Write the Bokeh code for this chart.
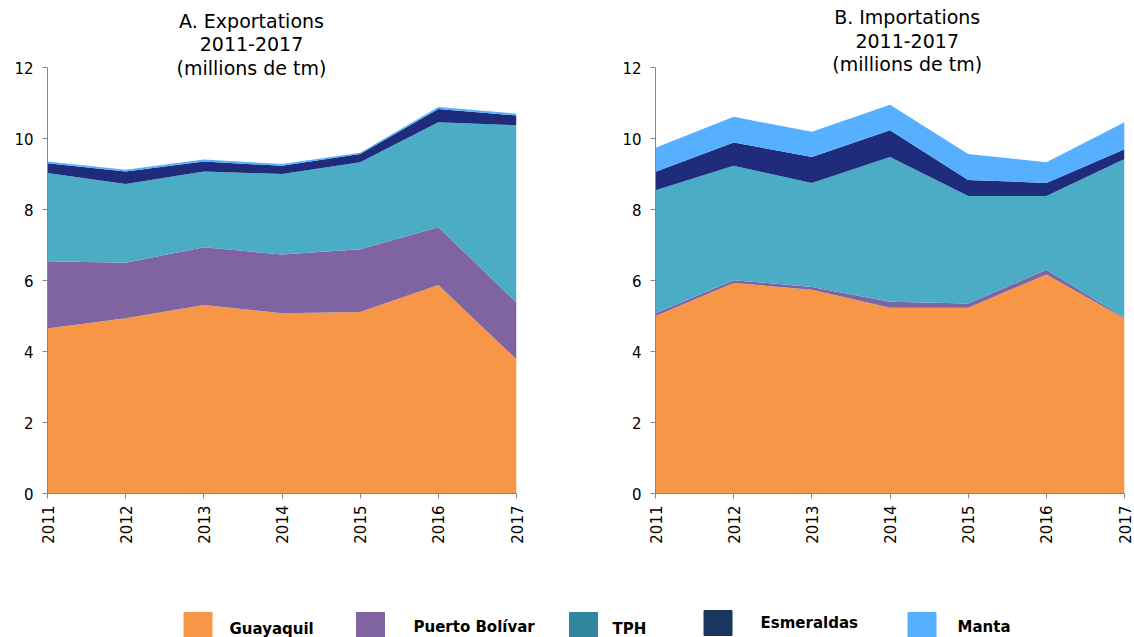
import math
from bokeh.plotting import figure
from bokeh.models import ColumnDataSource, Range1d, FixedTicker, Label
from bokeh.layouts import column, row
from bokeh.embed import file_html
from bokeh.resources import INLINE
from bokeh.core.properties import value

# ---------------- data (millions of tm) ----------------
years = [2011, 2012, 2013, 2014, 2015, 2016, 2017]
ports = ["Guayaquil", "Puerto Bolívar", "TPH", "Esmeraldas", "Manta"]

exp_guayaquil = [4.65, 4.94, 5.31, 5.08, 5.11, 5.87, 3.78]
exp_puerto_bolivar = [1.89, 1.56, 1.63, 1.65, 1.77, 1.63, 1.60]
exp_tph = [2.49, 2.22, 2.13, 2.27, 2.45, 2.96, 4.99]
exp_esmeraldas = [0.27, 0.35, 0.28, 0.23, 0.23, 0.37, 0.28]
exp_manta = [0.05, 0.05, 0.06, 0.05, 0.04, 0.06, 0.05]

imp_guayaquil = [5.00, 5.93, 5.74, 5.23, 5.23, 6.17, 4.93]
imp_puerto_bolivar = [0.08, 0.08, 0.08, 0.17, 0.12, 0.13, 0.02]
imp_tph = [3.46, 3.22, 2.93, 4.08, 3.03, 2.08, 4.47]
imp_esmeraldas = [0.52, 0.66, 0.73, 0.75, 0.45, 0.37, 0.28]
imp_manta = [0.68, 0.72, 0.71, 0.72, 0.73, 0.58, 0.76]

y_ticks = [0, 2, 4, 6, 8, 10, 12]

area_colors = ["#F79646", "#8064A2", "#4BACC6", "#1F2B7B", "#56B0FF"]
legend_colors = ["#F79646", "#8064A2", "#31859C", "#17375E", "#56B0FF"]

FONT = "DejaVu Sans"
keys = ["guayaquil", "puerto_bolivar", "tph", "esmeraldas", "manta"]

Y_TOP = 493 / 35.5  # frame reaches the top of the figure; axis bounded to 0..12


def make_panel(series, title_lines, title_x, title_ys, width, border_left, border_right):
    data = {"year": years}
    for k, s in zip(keys, series):
        data[k] = s
    src = ColumnDataSource(data)
    p = figure(width=width, height=567, output_backend="svg", toolbar_location=None,
               x_range=Range1d(2011, 2017), y_range=Range1d(0, Y_TOP),
               min_border_left=border_left, min_border_right=border_right,
               min_border_top=0, min_border_bottom=74)
    p.varea_stack(stackers=keys, x="year", color=area_colors, source=src)
    p.grid.visible = False
    p.outline_line_color = None
    p.background_fill_color = "white"
    p.border_fill_color = "white"

    for ax in (p.xaxis[0], p.yaxis[0]):
        ax.axis_line_color = "#868686"
        ax.major_tick_line_color = "#868686"
        ax.minor_tick_line_color = None
        ax.major_tick_in = 0
        ax.major_tick_out = 5
        ax.major_label_text_font = FONT
        ax.major_label_text_font_size = "15px"
        ax.major_label_text_color = "#000000"
    p.xaxis.ticker = FixedTicker(ticks=years)
    p.xaxis.major_label_orientation = math.pi / 2
    p.xaxis.major_label_standoff = 7
    p.yaxis.ticker = FixedTicker(ticks=y_ticks)
    p.yaxis.bounds = (0, 12)
    p.yaxis.major_label_standoff = 9

    for txt, ty in zip(title_lines, title_ys):
        p.add_layout(Label(x=title_x, y=ty, text=txt, text_align="center",
                           text_baseline="middle", text_font=FONT,
                           text_font_size="19px", text_color="#000000"))
    return p


pA = make_panel([exp_guayaquil, exp_puerto_bolivar, exp_tph, exp_esmeraldas, exp_manta],
                ["A. Exportations", "2011-2017", "(millions de tm)"],
                2013.61, [13.32, 12.65, 12.0], 568, 47, 52)
pB = make_panel([imp_guayaquil, imp_puerto_bolivar, imp_tph, imp_esmeraldas, imp_manta],
                ["B. Importations", "2011-2017", "(millions de tm)"],
                2014.22, [13.41, 12.76, 12.11], 566, 87, 10)

# ---------------- legend strip (page coordinates) ----------------
leg = figure(width=1134, height=70, output_backend="svg", toolbar_location=None,
             x_range=Range1d(0, 1134), y_range=Range1d(637, 567),
             min_border=0)
leg.axis.visible = False
leg.grid.visible = False
leg.outline_line_color = None

box_cx = [197.5, 370, 583, 717.5, 921.5]
box_cy = [624.5, 624.5, 624.5, 622.5, 624.5]
text_x = [229, 413, 612, 760, 957]
text_y = [628, 626, 628, 622, 626]

leg.rect(x=box_cx, y=box_cy, width=28, height=25, color=legend_colors)
leg.text(x=text_x, y=text_y, text=ports, text_font=value(FONT),
         text_font_style="bold", text_font_size="15px", text_color="#000000",
         text_baseline="middle", text_align="left")

layout = column(row(pA, pB), leg)
open("out.html", "w").write(file_html(layout, INLINE))
